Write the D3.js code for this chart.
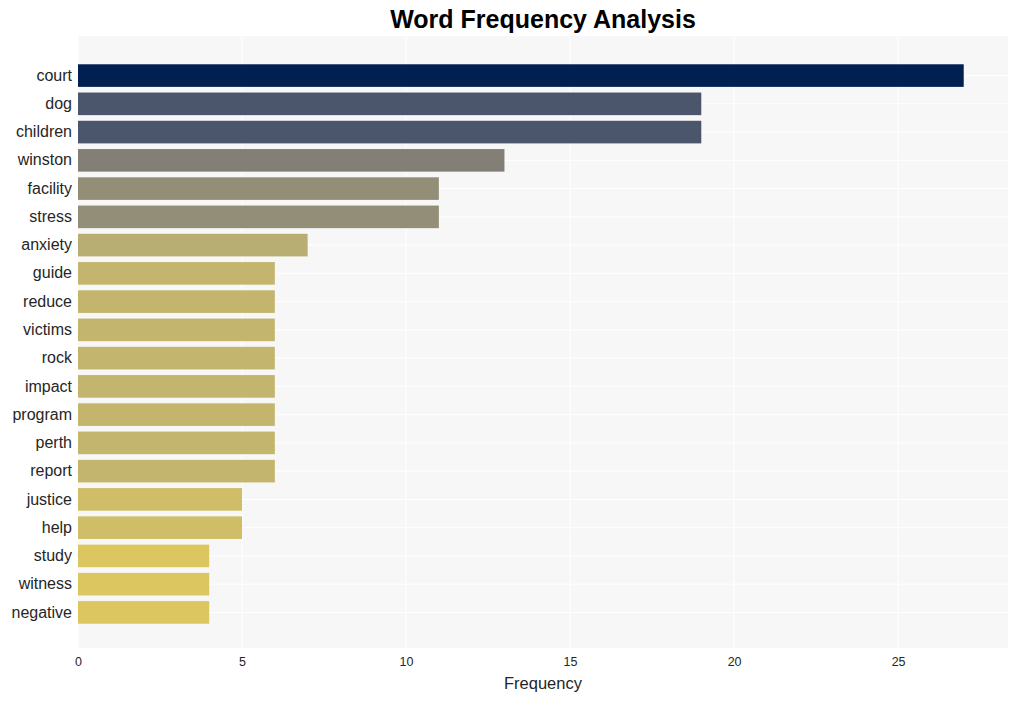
<!DOCTYPE html>
<html><head><meta charset="utf-8">
<script src="https://cdn.jsdelivr.net/npm/d3@7"></script>
<style>body{margin:0;background:#fff;font-family:"Liberation Sans",Arial,sans-serif;}</style>
</head><body><svg id="c" width="1017" height="701"></svg>
<script>
const words = ["court","dog","children","winston","facility","stress","anxiety","guide","reduce","victims","rock","impact","program","perth","report","justice","help","study","witness","negative"];
const counts = [27,19,19,13,11,11,7,6,6,6,6,6,6,6,6,5,5,4,4,4];
const xTicks = [0,5,10,15,20,25];

const svg = d3.select("#c");
const m = {l:78, r:1008, t:36, b:648};
const x = d3.scaleLinear().domain([0, 28.35]).range([m.l, m.r]);
const y = d3.scaleBand().domain(words).range([m.t + 2, m.b + 2]).paddingInner(0.2).paddingOuter(0.93);
const maxV = d3.max(counts);
const font = "Liberation Sans, Arial, sans-serif";

svg.append("rect").attr("x", m.l).attr("y", m.t).attr("width", m.r - m.l).attr("height", m.b - m.t).attr("fill", "#f7f7f7");

svg.append("g").selectAll("line").data(xTicks).join("line")
  .attr("x1", d => x(d)).attr("x2", d => x(d)).attr("y1", m.t).attr("y2", m.b)
  .attr("stroke", "#fff").attr("stroke-width", 1);
svg.append("g").selectAll("line").data(words).join("line")
  .attr("x1", m.l).attr("x2", m.r).attr("y1", d => y(d) + y.bandwidth()/2).attr("y2", d => y(d) + y.bandwidth()/2)
  .attr("stroke", "#fff").attr("stroke-width", 1);

svg.append("g").selectAll("rect").data(words).join("rect")
  .attr("x", x(0)).attr("y", d => y(d))
  .attr("width", (d,i) => x(counts[i]) - x(0)).attr("height", y.bandwidth())
  .attr("fill", (d,i) => d3.interpolateCividis(1 - counts[i]/maxV));

const xAxis = svg.append("g").attr("transform", `translate(0,${m.b})`)
  .call(d3.axisBottom(x).tickValues(xTicks).tickSize(0).tickPadding(9));
xAxis.select(".domain").remove();
xAxis.selectAll("text").attr("font-size", 12.5).attr("fill", "#262626").attr("font-family", font);

const yAxis = svg.append("g").attr("transform", `translate(${m.l},0)`)
  .call(d3.axisLeft(y).tickSize(0).tickPadding(6));
yAxis.select(".domain").remove();
yAxis.selectAll("text").attr("font-size", 16).attr("fill", "#262626").attr("font-family", font);

svg.append("text").attr("x", (m.l + m.r)/2).attr("y", 689).attr("text-anchor", "middle")
  .attr("font-size", 16.5).attr("fill", "#262626").attr("font-family", font).text("Frequency");
svg.append("text").attr("x", (m.l + m.r)/2).attr("y", 28).attr("text-anchor", "middle")
  .attr("font-size", 25).attr("font-weight", "bold").attr("fill", "#000").attr("font-family", font).text("Word Frequency Analysis");
</script></body></html>
